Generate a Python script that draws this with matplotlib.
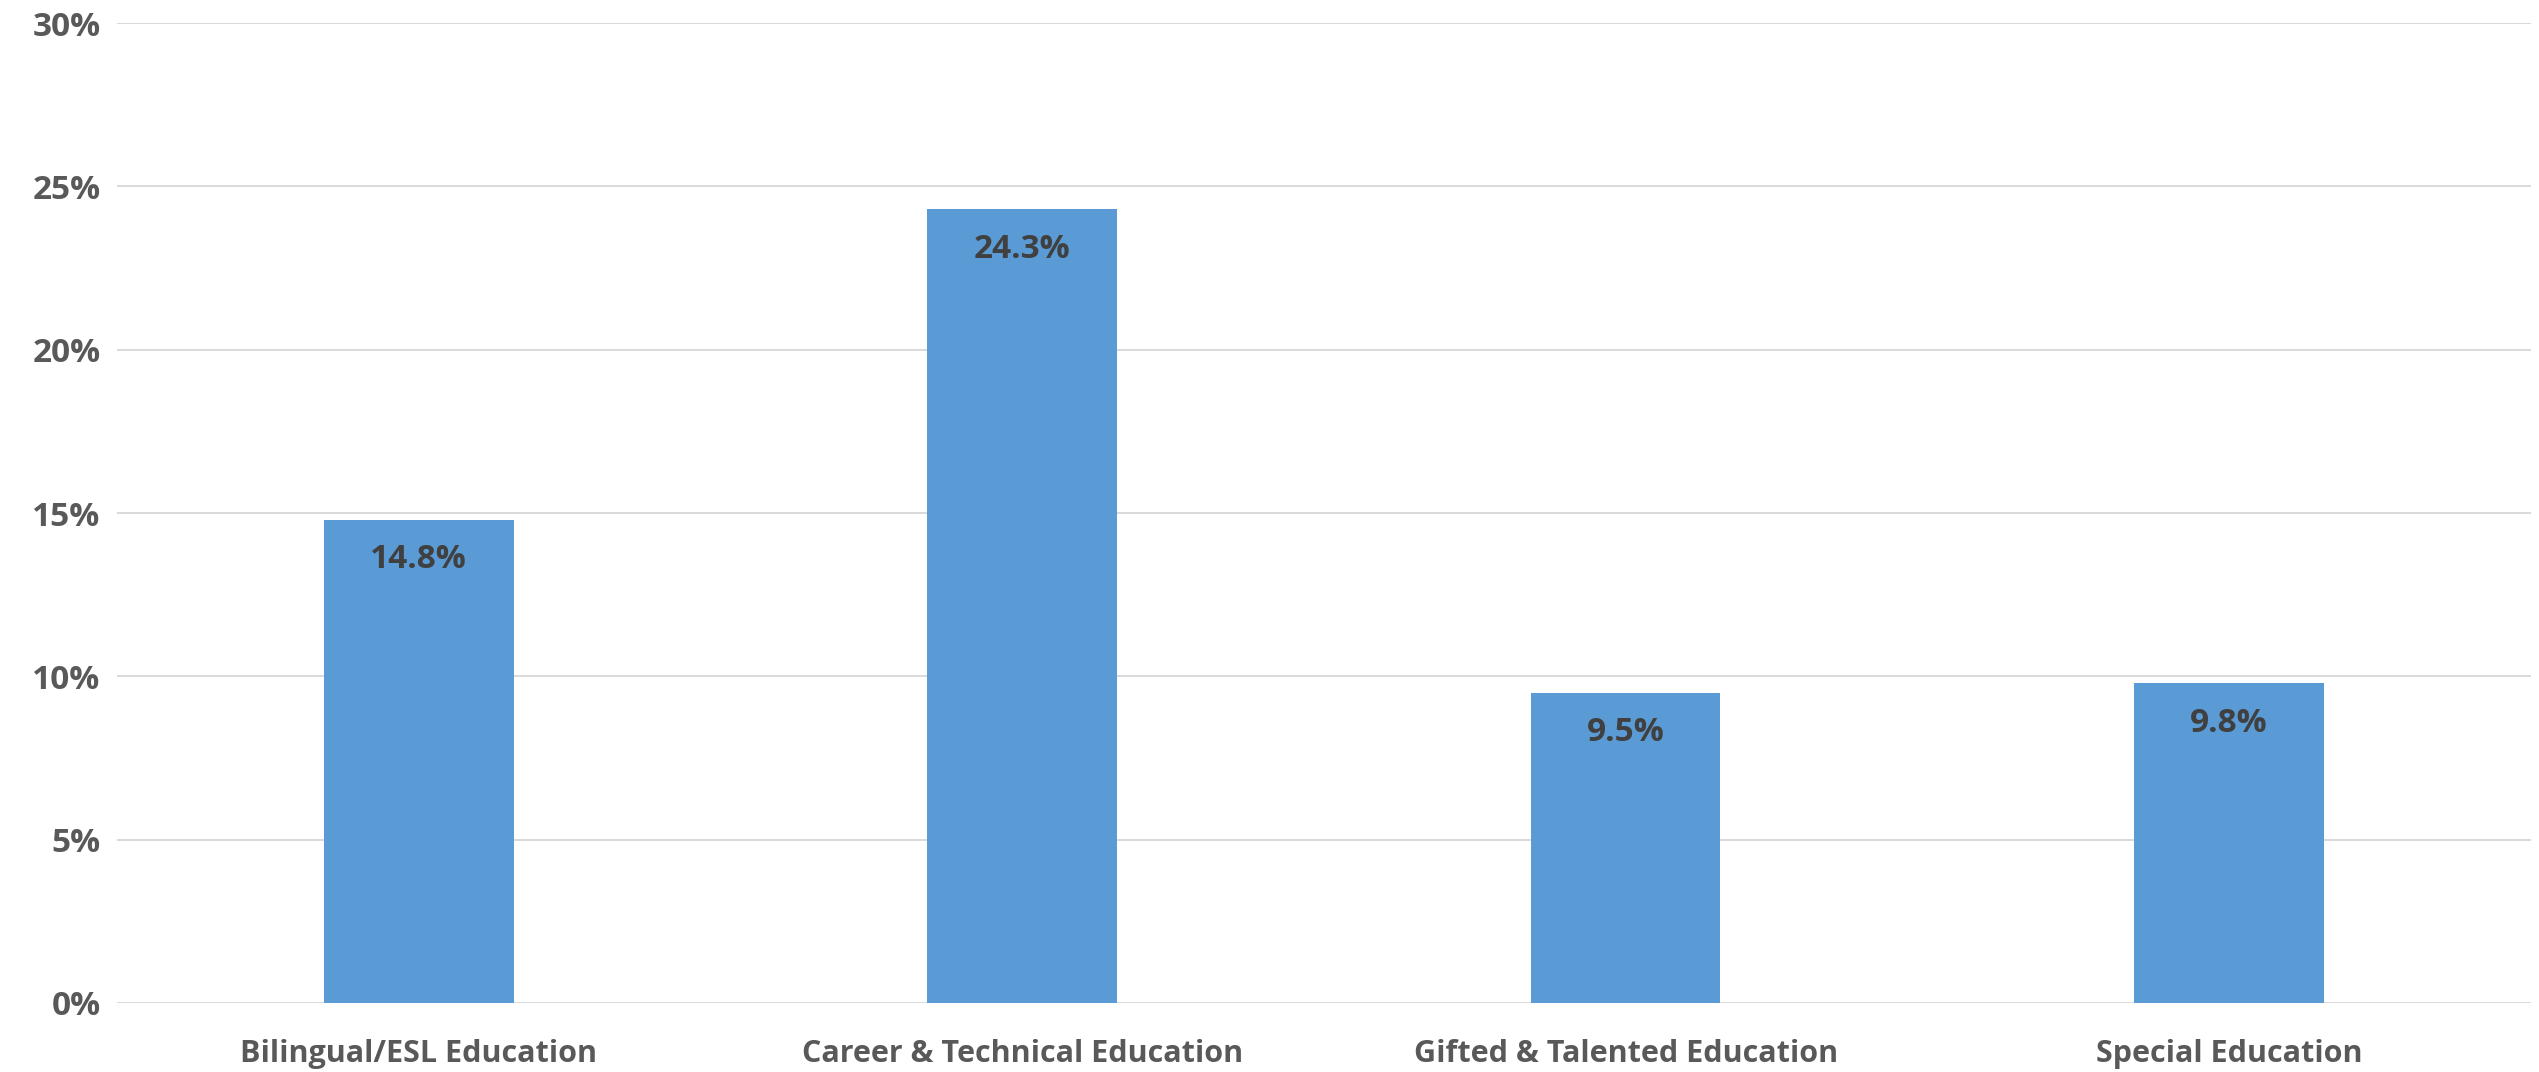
import matplotlib.pyplot as plt
from matplotlib.ticker import PercentFormatter

# data
categories = ["Bilingual/ESL Education", "Career & Technical Education",
              "Gifted & Talented Education", "Special Education"]
values = [14.8, 24.3, 9.5, 9.8]
yticks = [0, 5, 10, 15, 20, 25, 30]

plt.rcParams['font.family'] = ['Open Sans', 'DejaVu Sans']

fig = plt.figure(figsize=(25.39, 10.72), dpi=100)
ax = fig.add_axes([0.0461, 0.0644, 0.9507, 0.9141])

x = range(len(categories))
bars = ax.bar(x, values, width=0.314, color="#5B9BD5", zorder=3)

# value labels inside the top of each bar
for b, v in zip(bars, values):
    ax.annotate("%.1f%%" % v, (b.get_x() + b.get_width() / 2, v),
                xytext=(0, -29), textcoords="offset points",
                ha="center", va="center", fontsize=24, fontweight="bold",
                color="#404040", zorder=4)

ax.set_xlim(-0.5, len(categories) - 0.5)
ax.set_ylim(0, 30)
ax.set_yticks(yticks)
ax.yaxis.set_major_formatter(PercentFormatter(decimals=0))
ax.set_xticks(list(x))
ax.set_xticklabels(categories)

ax.grid(axis="y", color="#D9D9D9", linewidth=1.4, zorder=0)
for s in ax.spines.values():
    s.set_visible(False)
ax.tick_params(axis="both", length=0, labelcolor="#595959")
ax.tick_params(axis="y", pad=12, labelsize=24)
ax.tick_params(axis="x", pad=26, labelsize=22)
for t in ax.get_xticklabels() + ax.get_yticklabels():
    t.set_fontweight("bold")

fig.savefig("out.png", dpi=100)
